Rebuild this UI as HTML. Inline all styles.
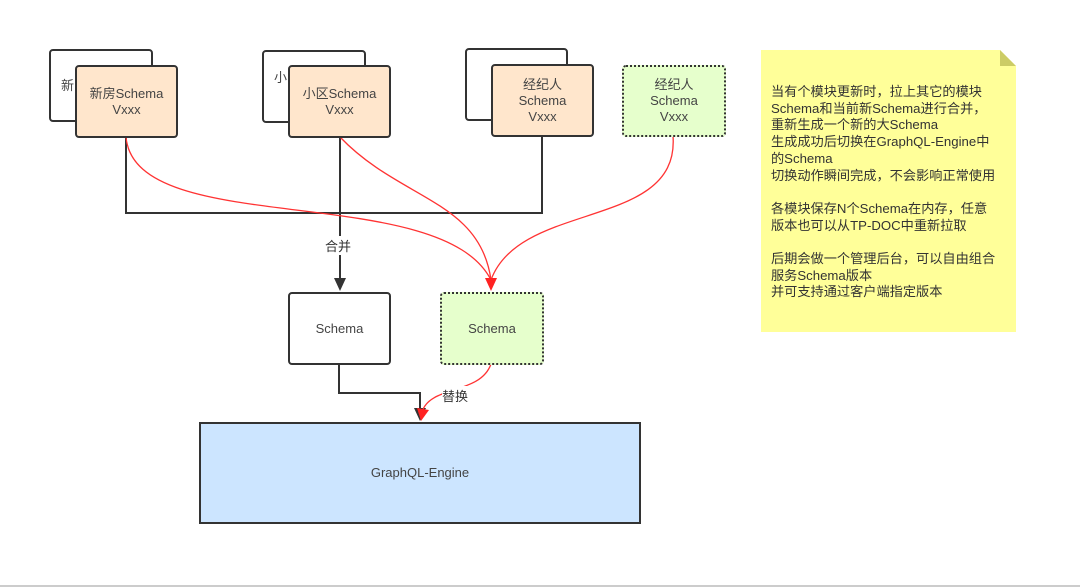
<!DOCTYPE html>
<html><head><meta charset="utf-8"><style>
body{margin:0;background:#fff;width:1080px;height:588px;overflow:hidden;position:relative;font-family:"Liberation Sans","Noto Sans CJK SC",sans-serif;color:#333}
.b{position:absolute;box-sizing:border-box;border:2px solid #333;border-radius:4px;background:#fff;display:flex;align-items:center;justify-content:center;text-align:center;font-size:13px;line-height:16px;color:#444}
.o{background:#ffe6cc}
.g{background:#e6ffcc;border:2px dotted #333}
</style></head><body>
<svg width="1080" height="588" style="position:absolute;left:0;top:0">
<g fill="none" stroke="#333" stroke-width="2">
<path d="M126,137 V213 H542 V136"/>
<path d="M340,137 V282"/>
<path d="M339,364 V393 H420 V412"/>
</g>
<path d="M334,278 L346,278 L340,291z" fill="#333"/>
<path d="M414,408 L426,408 L420,421z" fill="#333"/>
<g fill="none" stroke="#f33" stroke-width="1.3">
<path d="M126,137 C135,240 440,180 491,280"/>
<path d="M340,137 C400,200 480,200 491,280"/>
<path d="M673,136 C680,230 520,200 491,280"/>
<path d="M491,364 C480,395 430,385 422,412"/>
</g>
<path d="M485,278 L497,278 L491,291z" fill="#f22"/>
<path d="M417,408 L429,410 L421,421z" fill="#f22"/>
<line x1="0" y1="586" x2="1080" y2="586" stroke="#ccc" stroke-width="2"/>
</svg>
<div class="b" style="left:49px;top:49px;width:104px;height:73px;justify-content:flex-start;padding-left:10px">新</div>
<div class="b o" style="left:75px;top:65px;width:103px;height:73px">新房Schema<br>Vxxx</div>
<div class="b" style="left:262px;top:50px;width:104px;height:73px;justify-content:flex-start;padding-left:10px;align-items:flex-start;padding-top:18px">小</div>
<div class="b o" style="left:288px;top:65px;width:103px;height:73px">小区Schema<br>Vxxx</div>
<div class="b" style="left:465px;top:48px;width:103px;height:73px"></div>
<div class="b o" style="left:491px;top:64px;width:103px;height:73px">经纪人<br>Schema<br>Vxxx</div>
<div class="b g" style="left:622px;top:65px;width:104px;height:72px">经纪人<br>Schema<br>Vxxx</div>
<div class="b" style="left:288px;top:292px;width:103px;height:73px">Schema</div>
<div class="b g" style="left:440px;top:292px;width:104px;height:73px">Schema</div>
<div class="b" style="left:199px;top:422px;width:442px;height:102px;background:#cce5ff;border-radius:0">GraphQL-Engine</div>
<div style="position:absolute;left:325px;top:236px;font-size:13px;background:#fff">合并</div>
<div style="position:absolute;left:442px;top:386px;font-size:13px;background:#fff">替换</div>
<div style="position:absolute;left:761px;top:50px;width:255px;height:282px;background:#ffff99;clip-path:polygon(0 0,239px 0,255px 16px,255px 100%,0 100%)"></div>
<div style="position:absolute;left:1000px;top:50px;width:16px;height:16px;background:#cccc66;clip-path:polygon(0 0,100% 100%,0 100%)"></div>
<div style="position:absolute;left:771px;top:84px;width:228px;font-size:13.2px;line-height:16.7px;color:#333">当有个模块更新时，拉上其它的模块Schema和当前新Schema进行合并，重新生成一个新的大Schema<br>生成成功后切换在GraphQL-Engine中的Schema<br>切换动作瞬间完成，不会影响正常使用<br><br>各模块保存N个Schema在内存，任意版本也可以从TP-DOC中重新拉取<br><br>后期会做一个管理后台，可以自由组合服务Schema版本<br>并可支持通过客户端指定版本</div>
</body></html>
